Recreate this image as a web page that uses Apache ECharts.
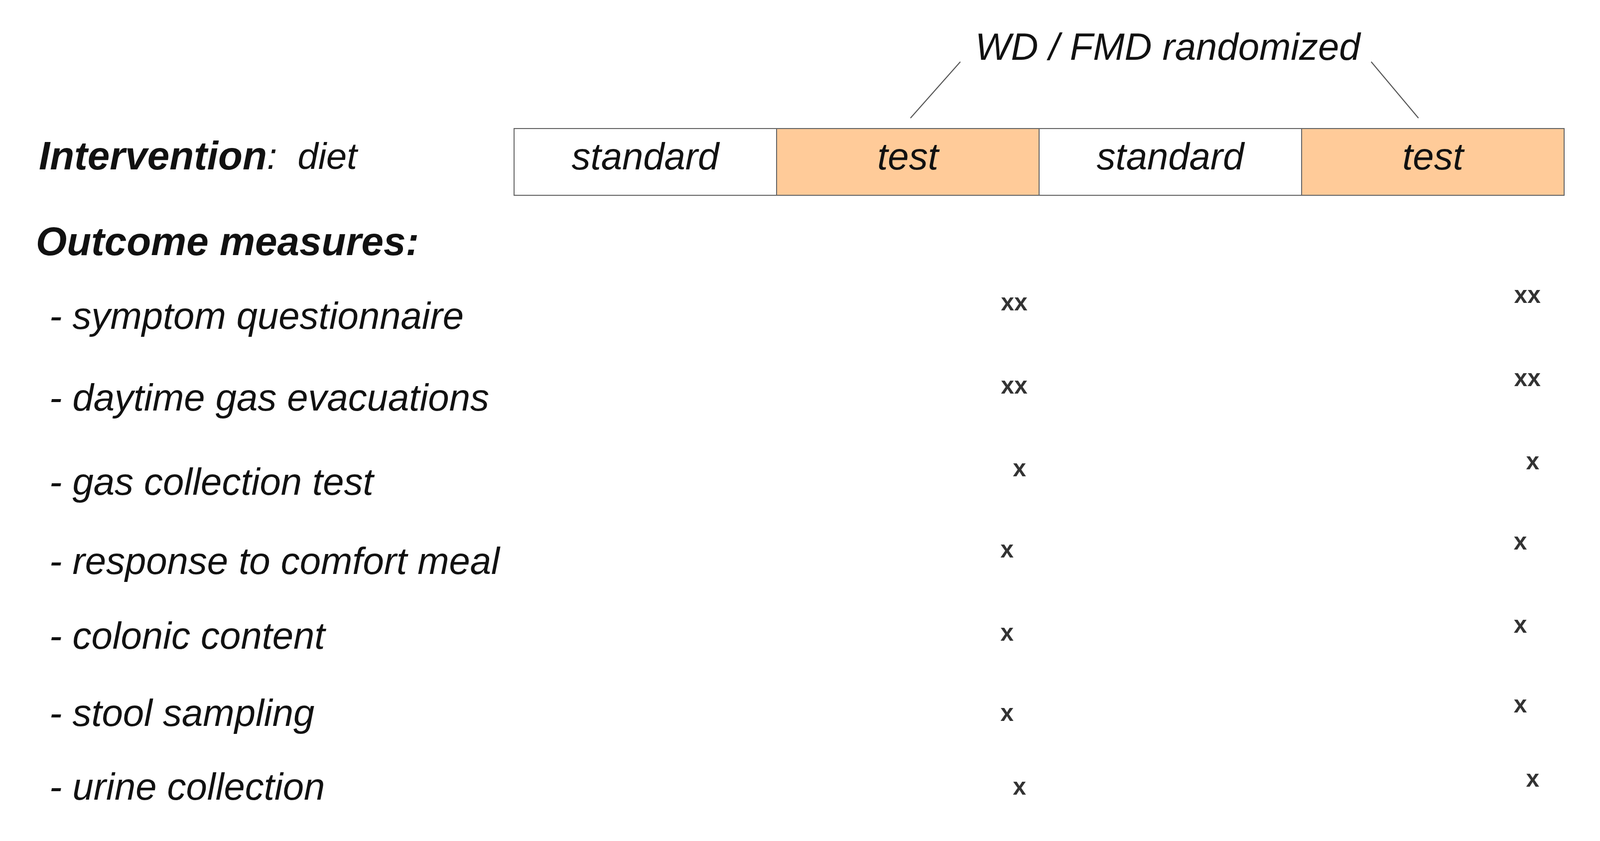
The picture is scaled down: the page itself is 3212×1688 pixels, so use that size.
<!DOCTYPE html>
<html><head><meta charset="utf-8">
<script src="https://cdn.jsdelivr.net/npm/echarts@6/dist/echarts.min.js"></script>
<style>html,body{margin:0;padding:0;background:#fff}#c{width:3212px;height:1688px}</style>
</head><body><div id="c"></div>
<script>
// Diet periods (x in period units)
const periods = ['standard','test','standard','test'];
const periodStart = [0,1,2,3];
const periodEnd = [1,2,3,4];
const periodIsTest = [false,true,false,true];
// Outcome measures (y in page-pixel units of the hidden vertical axis)
const outcomes = ['- symptom questionnaire','- daytime gas evacuations','- gas collection test','- response to comfort meal','- colonic content','- stool sampling','- urine collection'];
const outcomeY = [639,803,972,1131,1281,1436,1584];
// Measurement marks at end of each test period
const mark1Text = ['xx','xx','x','x','x','x','x'];
const mark1X = [1.905,1.905,1.925,1.878,1.878,1.878,1.925];
const mark1Y = [610,777,943,1106,1273,1434,1582];
const mark2X = [3.86,3.86,3.88,3.833,3.833,3.833,3.88];
const mark2Y = [595,762,929,1090,1257,1417,1566];
const barTop = 258, barBottom = 392;
const FONT = 'Liberation Sans, Arial, sans-serif';

const chart = echarts.init(document.getElementById('c'));
chart.setOption({
  backgroundColor:'#fff', animation:false,
  grid:{left:1032,right:72,top:0,bottom:0},
  xAxis:{type:'value',min:0,max:4,show:false},
  yAxis:{type:'value',min:0,max:1688,inverse:true,show:false},
  graphic:[
    {type:'text',left:78,top:278,style:{rich:{b:{fontFamily:FONT,fontSize:80,fontWeight:'bold',fontStyle:'italic',fill:'#111'},n:{fontFamily:FONT,fontSize:74,fontStyle:'italic',fill:'#111'}},text:'{b|Intervention}{n|:  diet}'}},
    {type:'text',left:72,top:450,style:{text:'Outcome measures:',fontFamily:FONT,fontSize:80,fontWeight:'bold',fontStyle:'italic',fill:'#111'}}
  ],
  series:[
    {type:'custom',silent:true,clip:false,data:periods.map((p,i)=>[periodStart[i],periodEnd[i],i]),
     renderItem:(params,api)=>{
       const i=api.value(2);
       const a=api.coord([api.value(0),barTop]), b=api.coord([api.value(1),barBottom]);
       return {type:'group',children:[
         {type:'rect',shape:{x:a[0],y:a[1],width:b[0]-a[0],height:b[1]-a[1]},
          style:{fill:periodIsTest[i]?'#FFCB99':'#fff',stroke:'#666',lineWidth:2}},
         {type:'text',x:(a[0]+b[0])/2,y:(a[1]+b[1])/2-6,style:{text:periods[i],fontFamily:FONT,fontSize:76,fontStyle:'italic',fill:'#111',align:'center',verticalAlign:'middle'}}
       ]};
     }},
    {type:'custom',silent:true,clip:false,data:[[1.70,124,1.51,237],[3.265,124,3.445,237]],
     renderItem:(params,api)=>{
       const a=api.coord([api.value(0),api.value(1)]), b=api.coord([api.value(2),api.value(3)]);
       return {type:'line',shape:{x1:a[0],y1:a[1],x2:b[0],y2:b[1]},style:{stroke:'#555',lineWidth:2}};
     }},
    {type:'custom',silent:true,clip:false,data:[[2.49,99]],
     renderItem:(params,api)=>{
       const a=api.coord([api.value(0),api.value(1)]);
       return {type:'text',x:a[0],y:a[1],style:{text:'WD / FMD randomized',fontFamily:FONT,fontSize:76,fontStyle:'italic',fill:'#111',align:'center',verticalAlign:'middle'}};
     }},
    {type:'custom',silent:true,clip:false,data:outcomes.map((o,i)=>[0,outcomeY[i],i]),
     renderItem:(params,api)=>{
       const p=api.coord([0,api.value(1)]);
       return {type:'text',x:99,y:p[1],style:{text:outcomes[api.value(2)],fontFamily:FONT,fontSize:76,fontStyle:'italic',fill:'#111',align:'left',verticalAlign:'middle'}};
     }},
    {type:'scatter',symbolSize:0,data:mark1X.map((x,i)=>({value:[x,mark1Y[i]],label:{formatter:mark1Text[i]}})),
     label:{show:true,position:'inside',fontFamily:FONT,fontSize:48,fontWeight:'bold',color:'#000'}},
    {type:'scatter',symbolSize:0,data:mark2X.map((x,i)=>({value:[x,mark2Y[i]],label:{formatter:mark1Text[i]}})),
     label:{show:true,position:'inside',fontFamily:FONT,fontSize:48,fontWeight:'bold',color:'#000'}}
  ]
});
</script></body></html>
